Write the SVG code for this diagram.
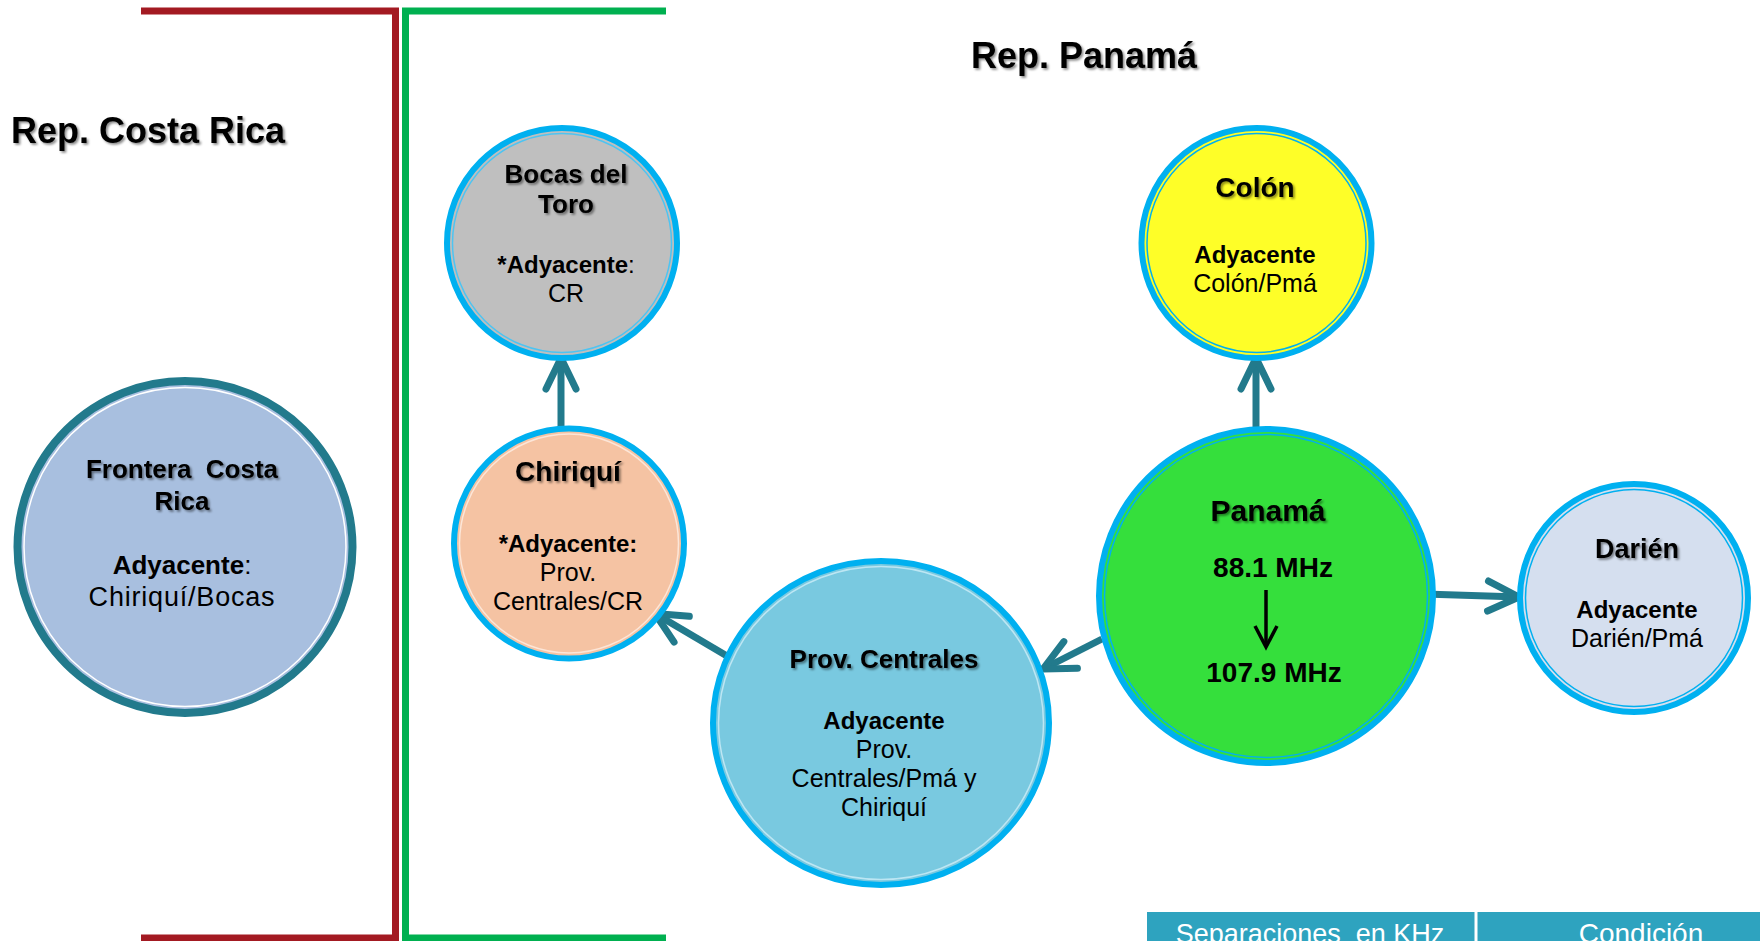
<svg xmlns="http://www.w3.org/2000/svg" width="1760" height="941" viewBox="0 0 1760 941">
<defs>
<filter id="sh" x="-20%" y="-40%" width="140%" height="180%">
<feDropShadow dx="1.8" dy="1.8" stdDeviation="1.3" flood-color="#000" flood-opacity="0.45"/>
</filter>
<marker id="ah" markerUnits="userSpaceOnUse" viewBox="-40 -25 50 50" refX="0" refY="0" markerWidth="50" markerHeight="50" orient="auto" overflow="visible">
<path d="M -31 -15 L 0 0 L -31 15" fill="none" stroke="#227A8C" stroke-width="7" stroke-linecap="round" stroke-linejoin="round"/>
</marker>
</defs>
<style>
text{font-family:"Liberation Sans",Arial,sans-serif;fill:#000;text-anchor:middle}
.t{font-weight:bold;font-size:26px;filter:url(#sh)}
.b{font-weight:bold;font-size:24px}
.r{font-size:25px}
.ring{stroke:#00B0F0;stroke-width:6}
.thin{fill:none;stroke-width:1.5}
.con{fill:none;stroke:#227A8C;stroke-width:7;marker-end:url(#ah)}
</style>
<rect width="1760" height="941" fill="#fff"/>

<g id="borders" fill="none" stroke-width="7" stroke-linejoin="miter">
<polyline points="141,11 395.5,11 395.5,938 141,938" stroke="#A31A22"/>
<polyline points="666,11 405.5,11 405.5,938 666,938" stroke="#00B050"/>
</g>

<g id="titles">
<text x="11" y="143" style="text-anchor:start;font-weight:bold;font-size:36px;filter:url(#sh)">Rep. Costa Rica</text>
<text x="971" y="68" style="text-anchor:start;font-weight:bold;font-size:36px;filter:url(#sh)">Rep. Panamá</text>
</g>

<g id="connectors">
<line class="con" x1="561" y1="432" x2="561" y2="358"/>
<line class="con" x1="727" y1="656" x2="655" y2="613.5"/>
<line class="con" x1="1256" y1="432" x2="1256" y2="358"/>
<line class="con" x1="1102" y1="639" x2="1043" y2="669"/>
<line class="con" x1="1424" y1="594" x2="1519" y2="597"/>
</g>

<g id="node-frontera">
<ellipse cx="185" cy="547" rx="167.5" ry="166" fill="#A8BFDF" stroke="#227A8C" stroke-width="8"/>
<ellipse cx="185" cy="547" rx="161" ry="159.5" class="thin" stroke="#fff"/>
<text x="182" y="478" class="t" xml:space="preserve">Frontera  Costa</text>
<text x="182" y="510" class="t">Rica</text>
<text x="182" y="574" style="font-size:26px"><tspan font-weight="bold">Adyacente</tspan>:</text>
<text x="182" y="606" class="r" style="font-size:27px;letter-spacing:0.8px">Chiriquí/Bocas</text>
</g>

<g id="node-bocas">
<circle cx="562" cy="243" r="115" class="ring" fill="#BFBFBF"/>
<circle cx="562" cy="243" r="109.5" class="thin" stroke="#4DC4F2"/>
<text x="566" y="183" class="t">Bocas del</text>
<text x="566" y="213" class="t">Toro</text>
<text x="566" y="273" style="font-size:24px"><tspan font-weight="bold">*Adyacente</tspan>:</text>
<text x="566" y="302" class="r">CR</text>
</g>

<g id="node-chiriqui">
<circle cx="569" cy="543.5" r="115" class="ring" fill="#F5C3A3"/>
<circle cx="569" cy="543.5" r="109.5" class="thin" stroke="#FCE6D8"/>
<text x="568" y="481" class="t" style="font-size:28px">Chiriquí</text>
<text x="568" y="552" class="b">*Adyacente:</text>
<text x="568" y="581" class="r">Prov.</text>
<text x="568" y="610" class="r">Centrales/CR</text>
</g>

<g id="node-colon">
<circle cx="1256.5" cy="243" r="115" class="ring" fill="#FEFE28"/>
<circle cx="1256.5" cy="243" r="109.5" class="thin" stroke="#00B0F0"/>
<text x="1255" y="197" class="t" style="font-size:28px">Colón</text>
<text x="1255" y="263" class="b">Adyacente</text>
<text x="1255" y="292" class="r">Colón/Pmá</text>
</g>

<g id="node-panama">
<circle cx="1266" cy="596" r="167" class="ring" fill="#35DF3C"/>
<circle cx="1266" cy="596" r="161.5" class="thin" stroke="#00B0F0"/>
<text x="1268" y="521" class="t" style="font-size:30px">Panamá</text>
<text x="1273" y="577" class="b" style="font-size:28px">88.1 MHz</text>
<line x1="1266" y1="590" x2="1266" y2="645" stroke="#000" stroke-width="3.5"/>
<polyline points="1255,626 1266,647 1277,626" fill="none" stroke="#000" stroke-width="3.5" stroke-linejoin="miter"/>
<text x="1274" y="682" class="b" style="font-size:28px">107.9 MHz</text>
</g>

<g id="node-darien">
<circle cx="1634" cy="598" r="114" class="ring" fill="#D5DFEF"/>
<circle cx="1634" cy="598" r="108.5" class="thin" stroke="#00B0F0"/>
<text x="1637" y="558" class="t" style="font-size:27px">Darién</text>
<text x="1637" y="618" class="b">Adyacente</text>
<text x="1637" y="647" class="r">Darién/Pmá</text>
</g>

<g id="node-provcentrales">
<ellipse cx="881" cy="723" rx="168" ry="162" class="ring" fill="#79C9E0"/>
<ellipse cx="881" cy="723" rx="162.5" ry="156.5" class="thin" stroke="#BDE6F3"/>
<text x="884" y="668" class="t">Prov. Centrales</text>
<text x="884" y="729" class="b">Adyacente</text>
<text x="884" y="758" class="r">Prov.</text>
<text x="884" y="787" class="r">Centrales/Pmá y</text>
<text x="884" y="816" class="r">Chiriquí</text>
</g>

<g id="table-header">
<rect x="1147" y="912" width="327.5" height="29" fill="#2EA3BF"/>
<rect x="1477.5" y="912" width="282.5" height="29" fill="#2EA3BF"/>
<text x="1310" y="943" xml:space="preserve" style="fill:#fff;font-size:27px">Separaciones  en KHz</text>
<text x="1641" y="943" style="fill:#fff;font-size:28px">Condición</text>
</g>
</svg>
